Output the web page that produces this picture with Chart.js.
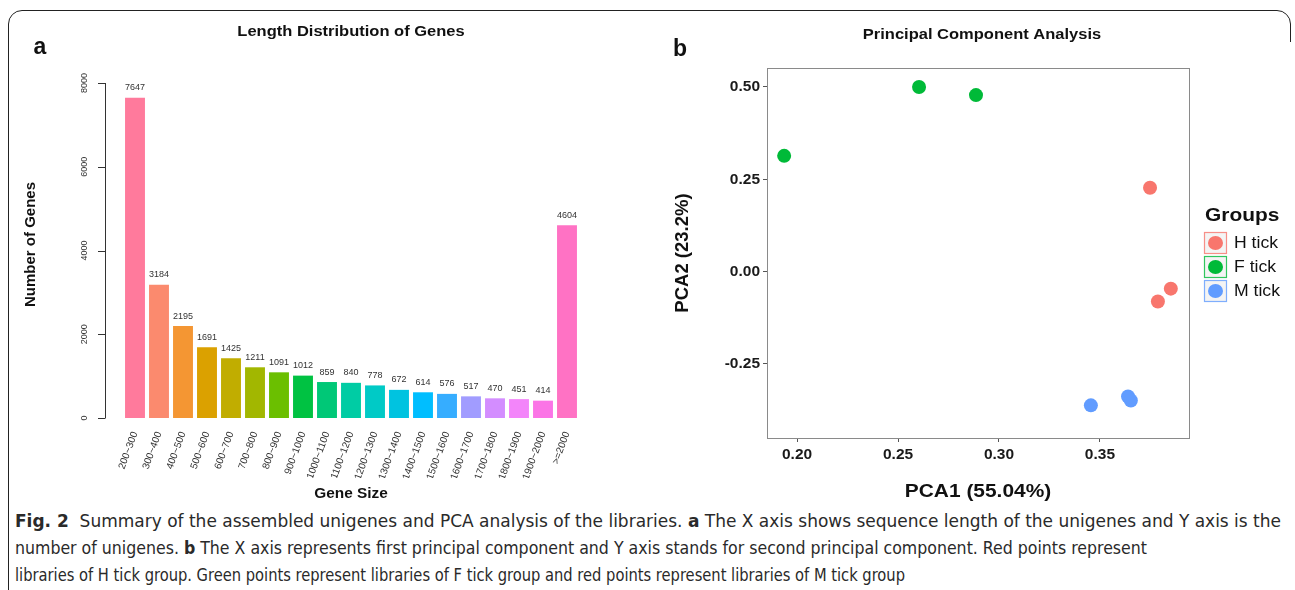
<!DOCTYPE html>
<html>
<head>
<meta charset="utf-8">
<script src="https://cdn.jsdelivr.net/npm/chart.js@4.4.1/dist/chart.umd.min.js"></script>
<style>
  html, body { margin: 0; padding: 0; background: #fff; }
  body { width: 1295px; height: 590px; position: relative; overflow: hidden; }
  #frame { position: absolute; left: 8px; top: 10px; width: 1283px; height: 640px;
           border: 1.3px solid #222; border-radius: 14px 14px 0 0; box-sizing: border-box; }
  #frameCut { position: absolute; left: 1286px; top: 42px; width: 9px; height: 560px; background: #fff; }
  #left { position: absolute; left: 0; top: 0; }
  #right { position: absolute; left: 655px; top: 0; }
  #caption { position: absolute; left: 15px; top: 508px;
             font-family: "Liberation Sans Narrow", "DejaVu Sans Condensed", "Liberation Sans", sans-serif;
             font-size: 17px; color: #2a2a2a; line-height: 27px; white-space: nowrap; }
  #caption span { display: inline-block; transform-origin: 0 50%; }
  #caption b { font-weight: bold; }
</style>
</head>
<body>
<div id="frame"></div>
<div id="frameCut"></div>
<canvas id="left" width="655" height="505"></canvas>
<canvas id="right" width="640" height="505"></canvas>
<div id="caption">
  <div><span class="ln"><b>Fig. 2</b>&nbsp; Summary of the assembled unigenes and PCA analysis of the libraries. <b>a</b> The X axis shows sequence length of the unigenes and Y axis is the</span></div>
  <div><span class="ln">number of unigenes. <b>b</b> The X axis represents first principal component and Y axis stands for second principal component. Red points represent</span></div>
  <div><span class="ln">libraries of H tick group. Green points represent libraries of F tick group and red points represent libraries of M tick group</span></div>
</div>
<script>
// gene length distribution
const sizeLabels = ["200~300","300~400","400~500","500~600","600~700","700~800","800~900","900~1000",
  "1000~1100","1100~1200","1200~1300","1300~1400","1400~1500","1500~1600","1600~1700","1700~1800",
  "1800~1900","1900~2000",">=2000"];
const geneCounts = [7647,3184,2195,1691,1425,1211,1091,1012,859,840,778,672,614,576,517,470,451,414,4604];
const barColors = ["#FF7A9C","#FB8A6E","#F49633","#DBA100","#C1AD00","#A2B700","#6BBF00","#00C242",
  "#00C877","#00CCA4","#00CAC6","#00C3E0","#00BEFF","#36ADFF","#A19CFF","#D38DFF","#F385FA","#FB74E6","#FF72C4"];
const countTicks = [0,2000,4000,6000,8000];

// PCA
const groupNames = ["H tick","F tick","M tick"];
const groupColors = ["#F8766D","#00BA38","#619CFF"];
const hTickPC1 = [0.3748, 0.3851, 0.3787];
const hTickPC2 = [0.227, -0.046, -0.081];
const fTickPC1 = [0.1936, 0.2604, 0.2886];
const fTickPC2 = [0.3135, 0.500, 0.478];
const mTickPC1 = [0.3455, 0.3639, 0.3653];
const mTickPC2 = [-0.362, -0.338, -0.349];
const pc1Ticks = [0.20, 0.25, 0.30, 0.35];
const pc2Ticks = [-0.25, 0.00, 0.25, 0.50];

const FONT = "'Liberation Sans', Arial, Helvetica, sans-serif";
Chart.defaults.font.family = FONT;
Chart.defaults.animation = false;

function toPoints(xs, ys){
  return xs.map((x, i) => ({x: x, y: ys[i]}));
}

// the original figure is a little stretched sideways, sx mimics that
function text(ctx, str, x, y, font, color, align, angle, sx){
  ctx.save();
  ctx.font = font;
  ctx.fillStyle = color || "#000";
  ctx.textAlign = align || "center";
  ctx.textBaseline = "middle";
  ctx.translate(x, y);
  if(sx) ctx.scale(sx, 1);
  if(angle) ctx.rotate(angle);
  ctx.fillText(str, 0, 0);
  ctx.restore();
}

// left: bar chart
const leftDecor = {
  id: "leftDecor",
  afterDraw(chart){
    const ctx = chart.ctx;
    const y = chart.scales.y;
    // base-R style y axis
    const axisX = 105;
    ctx.save();
    ctx.strokeStyle = "#333";
    ctx.lineWidth = 1;
    ctx.beginPath();
    ctx.moveTo(axisX + 0.5, y.getPixelForValue(countTicks[0]));
    ctx.lineTo(axisX + 0.5, y.getPixelForValue(countTicks[countTicks.length - 1]));
    countTicks.forEach(v => {
      const py = Math.round(y.getPixelForValue(v)) + 0.5;
      ctx.moveTo(axisX - 7, py);
      ctx.lineTo(axisX + 0.5, py);
    });
    ctx.stroke();
    ctx.restore();
    countTicks.forEach(v => {
      text(ctx, String(v), 85, y.getPixelForValue(v), "9px " + FONT, "#333", "center", -Math.PI / 2);
    });
    // value labels
    chart.getDatasetMeta(0).data.forEach((bar, i) => {
      text(ctx, String(geneCounts[i]), bar.x, bar.y - 10, "9px " + FONT, "#333");
    });
    const area = chart.chartArea;
    const cx = (area.left + area.right) / 2;
    text(ctx, "Length Distribution of Genes", cx, 32, "bold 15px " + FONT, "#111", "center", 0, 1.1);
    text(ctx, "Gene Size", cx, 494, "bold 14px " + FONT, "#111", "center", 0, 1.1);
    text(ctx, "Number of Genes", 31, (area.top + area.bottom) / 2 - 6, "bold 15px " + FONT, "#111", "center", -Math.PI / 2);
    text(ctx, "a", 40, 48, "bold 23px " + FONT, "#111");
  }
};

new Chart(document.getElementById("left"), {
  type: "bar",
  data: {
    labels: sizeLabels,
    datasets: [{
      data: geneCounts,
      backgroundColor: barColors,
      borderWidth: 0,
      categoryPercentage: 1,
      barPercentage: 0.83
    }]
  },
  options: {
    responsive: false,
    layout: { padding: { left: 123, right: 76, top: 83, bottom: 27 } },
    plugins: { legend: { display: false }, tooltip: { enabled: false } },
    scales: {
      x: {
        grid: { display: false },
        border: { display: false },
        ticks: { autoSkip: false, minRotation: 70, maxRotation: 70, padding: 4,
                 font: { size: 10 }, color: "#333" },
        afterFit(scale){ scale.height = 60; }
      },
      y: { display: false, min: 0, max: 8000 }
    }
  },
  plugins: [leftDecor]
});

// right: PCA scatter
const rightDecor = {
  id: "rightDecor",
  afterDraw(chart){
    const ctx = chart.ctx;
    const a = chart.chartArea;
    ctx.save();
    ctx.strokeStyle = "#8a8a8a";
    ctx.lineWidth = 1;
    ctx.strokeRect(Math.round(a.left) + 0.5, Math.round(a.top) + 0.5,
                   Math.round(a.right - a.left), Math.round(a.bottom - a.top));
    ctx.restore();
    const cx = (a.left + a.right) / 2;
    text(ctx, "Principal Component Analysis", cx + 4, 35, "bold 15px " + FONT, "#111", "center", 0, 1.1);
    text(ctx, "PCA1 (55.04%)", cx, 492, "bold 19px " + FONT, "#111", "center", 0, 1.1);
    text(ctx, "PCA2 (23.2%)", 28, (a.top + a.bottom) / 2, "bold 18.5px " + FONT, "#111", "center", -Math.PI / 2);
    text(ctx, "b", 25, 50, "bold 23px " + FONT, "#111");
    // legend
    const lx = 549;
    text(ctx, "Groups", lx + 1, 216, "bold 19px " + FONT, "#111", "left", 0, 1.1);
    chart.data.datasets.forEach((ds, i) => {
      const cy = 243 + i * 24;
      ctx.save();
      ctx.fillStyle = "#f4f4f4";
      ctx.fillRect(lx, cy - 11, 23, 22);
      ctx.strokeStyle = ds.backgroundColor;
      ctx.globalAlpha = 0.8;
      ctx.lineWidth = 1.2;
      ctx.strokeRect(lx + 0.5, cy - 10.5, 22, 21);
      ctx.globalAlpha = 1;
      ctx.fillStyle = ds.backgroundColor;
      ctx.beginPath();
      ctx.ellipse(lx + 11.5, cy, 7.5, 7, 0, 0, Math.PI * 2);
      ctx.fill();
      ctx.restore();
      text(ctx, ds.label, lx + 30, cy + 1, "16px " + FONT, "#111", "left", 0, 1.1);
    });
  }
};

function pcaTicks(values){
  return function(scale){ scale.ticks = values.map(v => ({ value: v })); };
}

new Chart(document.getElementById("right"), {
  type: "scatter",
  data: {
    datasets: [
      { label: groupNames[0], data: toPoints(hTickPC1, hTickPC2), backgroundColor: groupColors[0] },
      { label: groupNames[1], data: toPoints(fTickPC1, fTickPC2), backgroundColor: groupColors[1] },
      { label: groupNames[2], data: toPoints(mTickPC1, mTickPC2), backgroundColor: groupColors[2] }
    ]
  },
  options: {
    responsive: false,
    layout: { padding: { left: 52, right: 106, top: 68, bottom: 27 } },
    elements: { point: { radius: 7, borderWidth: 0, hoverRadius: 7 } },
    plugins: { legend: { display: false }, tooltip: { enabled: false } },
    scales: {
      x: {
        type: "linear", min: 0.1851, max: 0.3941,
        afterBuildTicks: pcaTicks(pc1Ticks),
        grid: { drawOnChartArea: false, tickLength: 4, color: "#555" },
        border: { display: false },
        ticks: { callback: v => v.toFixed(2), font: { size: 15.5, weight: "bold" }, color: "#1a1a1a",
                 padding: 3, maxRotation: 0 },
        afterFit(scale){ scale.height = 40; }
      },
      y: {
        type: "linear", min: -0.4504, max: 0.5514,
        afterBuildTicks: pcaTicks(pc2Ticks),
        grid: { drawOnChartArea: false, tickLength: 4, color: "#555" },
        border: { display: false },
        ticks: { callback: v => v.toFixed(2), font: { size: 15.5, weight: "bold" }, color: "#1a1a1a", padding: 3 },
        afterFit(scale){ scale.width = 60; }
      }
    }
  },
  plugins: [rightDecor]
});

// caption: the original uses a condensed face, squeeze each line to its width
const lineWidths = [1266, 1132, 890];
document.querySelectorAll("#caption .ln").forEach((ln, i) => {
  const w = ln.getBoundingClientRect().width;
  ln.style.transform = "scaleX(" + (lineWidths[i] / w).toFixed(4) + ")";
});
</script>
</body>
</html>
